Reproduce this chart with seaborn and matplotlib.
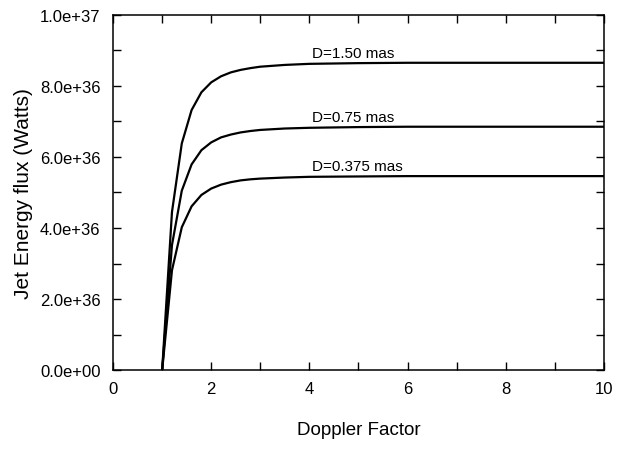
# Jet energy flux vs Doppler factor for three source distances
import numpy as np
import pandas as pd
import matplotlib
matplotlib.use('Agg')
import matplotlib.pyplot as plt
from matplotlib.ticker import MultipleLocator, FormatStrFormatter
import seaborn as sns

# values (flux in units of 1e36 W)
doppler = [1.0, 1.2, 1.4, 1.6, 1.8, 2.0, 2.2, 2.4, 2.6, 2.8, 3.0, 3.5, 4.0, 5.0, 6.0, 7.0, 8.0, 9.0, 10.0]
flux_150 = [0.0, 4.45, 6.38, 7.32, 7.82, 8.10, 8.27, 8.38, 8.45, 8.50, 8.54, 8.59, 8.62, 8.64, 8.65, 8.65, 8.65, 8.65, 8.65]
flux_075 = [0.0, 3.52, 5.05, 5.79, 6.19, 6.41, 6.55, 6.63, 6.69, 6.73, 6.76, 6.80, 6.82, 6.84, 6.85, 6.85, 6.85, 6.85, 6.85]
flux_0375 = [0.0, 2.81, 4.02, 4.61, 4.93, 5.11, 5.22, 5.29, 5.34, 5.37, 5.39, 5.42, 5.44, 5.45, 5.46, 5.46, 5.46, 5.46, 5.46]
labels = ['D=1.50 mas', 'D=0.75 mas', 'D=0.375 mas']
label_x = 4.05

df = pd.DataFrame({
    'Doppler': doppler * 3,
    'Flux': np.array(flux_150 + flux_075 + flux_0375) * 1e36,
    'Source': [labels[0]] * len(doppler) + [labels[1]] * len(doppler) + [labels[2]] * len(doppler),
})

sns.set_theme(style='ticks')
plt.rcParams['font.family'] = ['Liberation Sans', 'DejaVu Sans']
plt.rcParams['text.color'] = 'black'
plt.rcParams['axes.labelcolor'] = 'black'

fig = plt.figure(figsize=(6.18, 4.52), dpi=100)
ax = fig.add_axes([0.183, 0.179, 0.794, 0.786])

sns.lineplot(data=df, x='Doppler', y='Flux', units='Source', estimator=None,
             color='black', linewidth=1.6, legend=False, ax=ax)

# curve labels sit just above each plateau
for lab, series in zip(labels, [flux_150, flux_075, flux_0375]):
    ax.text(label_x, series[-1] * 1e36 + 0.08e36, lab, fontsize=11, va='bottom', ha='left', color='black')

ax.set_xlim(0, 10)
ax.set_ylim(0, 1e37)
ax.xaxis.set_major_locator(MultipleLocator(2))
ax.xaxis.set_minor_locator(MultipleLocator(1))
ax.yaxis.set_major_locator(MultipleLocator(2e36))
ax.yaxis.set_minor_locator(MultipleLocator(1e36))
ax.yaxis.set_major_formatter(FormatStrFormatter('%.1e'))

ax.tick_params(which='both', direction='in', top=True, right=True, length=6, width=1, colors='black')
ax.tick_params(axis='x', which='major', labelsize=12, pad=8)
ax.tick_params(axis='y', which='major', labelsize=12, pad=9)
for s in ax.spines.values():
    s.set_linewidth(1.1)
    s.set_color('black')

ax.set_xlabel('Doppler Factor', fontsize=13.5, labelpad=18)
ax.set_ylabel('Jet Energy flux (Watts)', fontsize=15, labelpad=5)

fig.savefig('out.png', dpi=100)
